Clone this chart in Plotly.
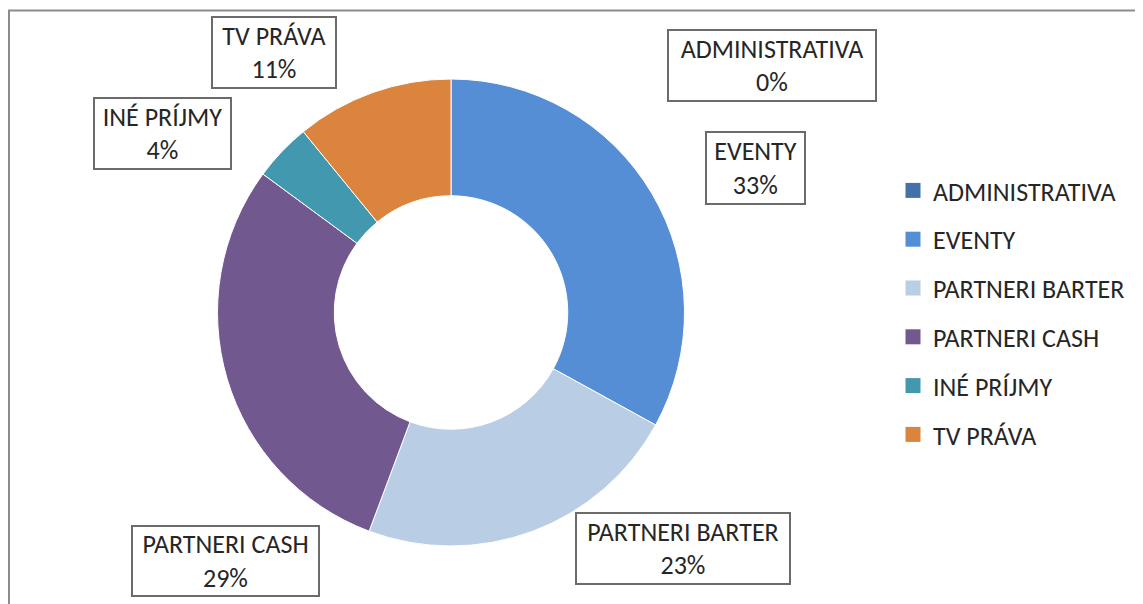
import plotly.graph_objects as go

categories = ["ADMINISTRATIVA", "EVENTY", "PARTNERI BARTER", "PARTNERI CASH", "INÉ PRÍJMY", "TV PRÁVA"]
values = [0.0, 33.0, 22.7, 29.4, 4.0, 10.9]
colors = ["#4472A8", "#558ED5", "#B9CDE5", "#71588F", "#4198AF", "#DB843D"]

# page is rendered with an 8px body margin; positions below are page pixels
OFF = 8
W, H = 1143 - OFF, 604 - OFF

# label box centres / sizes in page pixels (layout only)
box_centers = [(772, 65), (755, 168), (683, 548), (225, 561), (162, 133), (274, 52)]
box_sizes = [(210, 73), (101, 74), (216, 73), (189, 72), (139, 73), (126, 73)]

FONT = "Carlito, Liberation Sans, Arial, sans-serif"

def px(x):
    return (x - OFF) / W

def py(y):
    return 1 - (y - OFF) / H

cx, cy, r = 451, 312.5, 233.5

fig = go.Figure()
fig.add_trace(go.Pie(
    labels=categories, values=values, sort=False, direction="clockwise",
    rotation=0, hole=0.5, textinfo="none", showlegend=False,
    marker=dict(colors=colors, line=dict(color="white", width=1)),
    domain=dict(x=[px(cx - r), px(cx + r)], y=[py(cy + r), py(cy - r)]),
    hoverinfo="label+percent",
))

# legend entries
for i, (c, col) in enumerate(zip(categories, colors)):
    fig.add_trace(go.Scatter(
        x=[None], y=[None], mode="markers", name=c, legendgroup=str(i),
        marker=dict(symbol="square", size=15, color=col),
    ))

total = sum(values)
annotations = []
for c, v, (bx, by), (bw, bh) in zip(categories, values, box_centers, box_sizes):
    pct = round(100 * v / total)
    annotations.append(dict(
        text=f"{c}<br>{pct}%", x=px(bx), y=py(by), xref="paper", yref="paper",
        xanchor="center", yanchor="middle", showarrow=False,
        width=bw - 4, height=bh - 4, align="center", valign="middle",
        bordercolor="#6b6b6b", borderwidth=2, borderpad=0, bgcolor="white",
        font=dict(family=FONT, size=26, color="#262626"),
    ))

shapes = [
    dict(type="line", xref="paper", yref="paper", x0=1 / W, y0=0, x1=1 / W, y1=py(10),
         line=dict(color="#8c8c8c", width=2)),
    dict(type="line", xref="paper", yref="paper", x0=0, y0=py(10.5), x1=1, y1=py(10.5),
         line=dict(color="#8c8c8c", width=2)),
]

fig.update_layout(
    width=W, height=H, margin=dict(l=0, r=0, t=0, b=0),
    paper_bgcolor="white", plot_bgcolor="white",
    xaxis=dict(visible=False), yaxis=dict(visible=False),
    annotations=annotations, shapes=shapes,
    legend=dict(x=px(893), y=py(167), xanchor="left", yanchor="top",
                traceorder="grouped", tracegroupgap=12, itemclick=False,
                font=dict(family=FONT, size=26, color="#262626"),
                bgcolor="rgba(0,0,0,0)"),
)

fig.write_html("out.html")
